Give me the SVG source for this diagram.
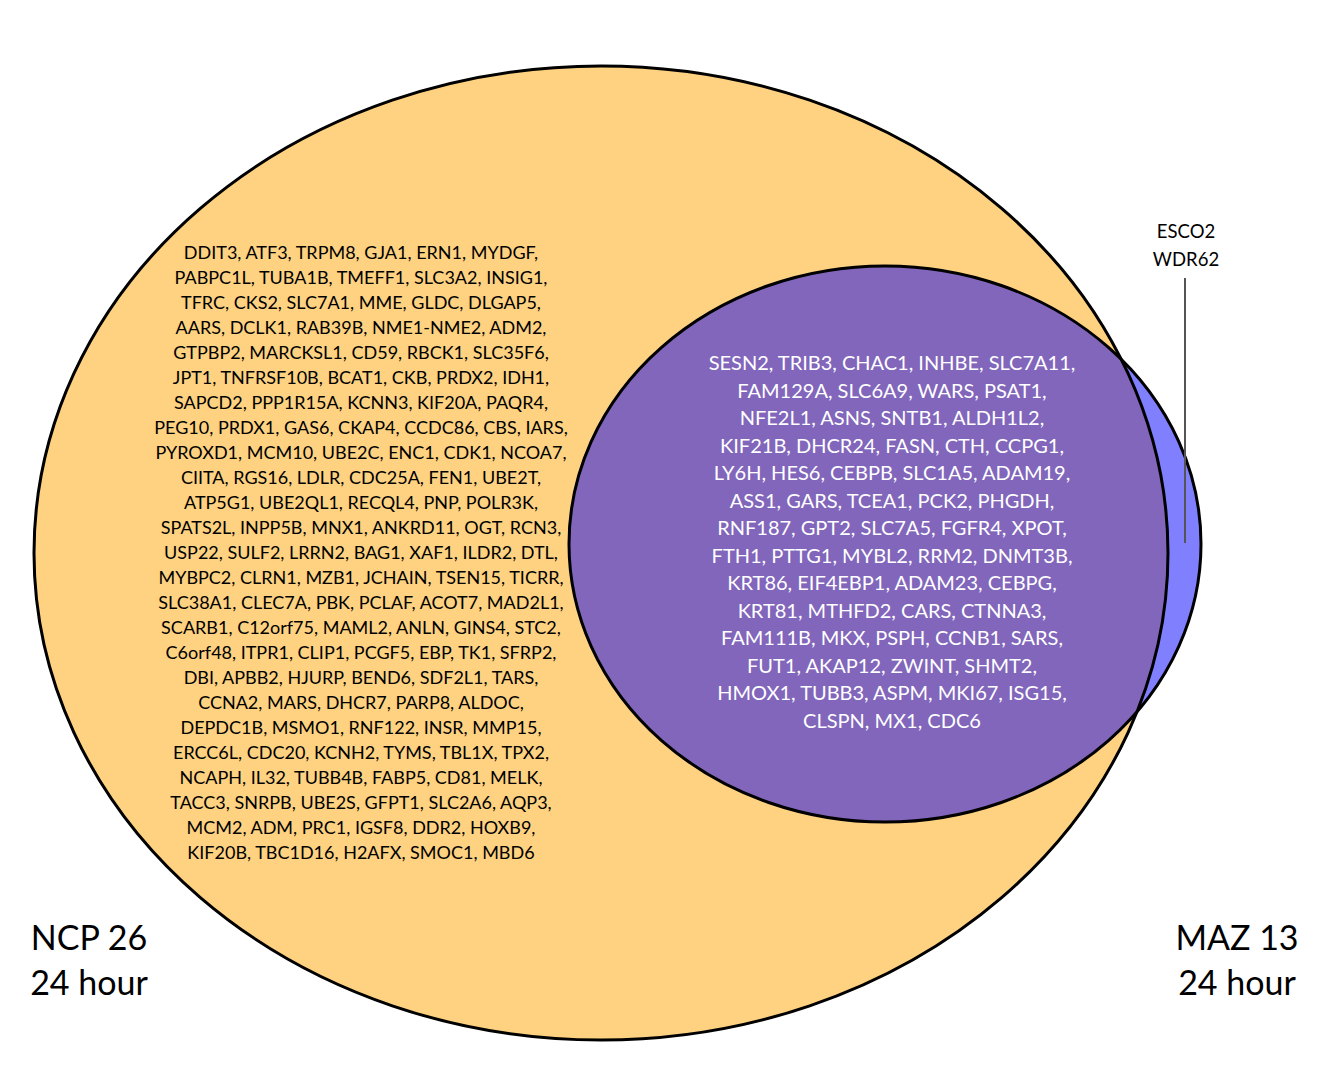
<svg xmlns="http://www.w3.org/2000/svg" width="1326" height="1086" viewBox="0 0 1326 1086">
<style>
.outline{fill:none;stroke:#000;stroke-width:3}
.gl{font-family:Lato,"Liberation Sans",sans-serif;font-size:18px;fill:#000;text-anchor:middle}
.gr{font-family:Lato,"Liberation Sans",sans-serif;font-size:20px;fill:#fff;text-anchor:middle}
.lab{font-family:Lato,"Liberation Sans",sans-serif;font-size:34px;fill:#000;text-anchor:middle}
.sm{font-family:Lato,"Liberation Sans",sans-serif;font-size:18.5px;fill:#000;text-anchor:middle}
</style>
<defs>
<clipPath id="clipY"><ellipse cx="601" cy="553" rx="567" ry="487"/></clipPath>
</defs>
<rect width="1326" height="1086" fill="#fff"/>
<g id="set-ncp26">
<ellipse cx="601" cy="553" rx="567" ry="487" fill="#FED280"/>
</g>
<g id="set-maz13">
<ellipse cx="885" cy="544" rx="316" ry="278" fill="#8080FF"/>
<ellipse cx="885" cy="544" rx="316" ry="278" fill="#8166BB" clip-path="url(#clipY)"/>
</g>
<ellipse class="outline" cx="601" cy="553" rx="567" ry="487"/>
<ellipse class="outline" cx="885" cy="544" rx="316" ry="278"/>
<g id="connectors">
<line x1="1185" y1="278" x2="1185" y2="543" stroke="#555" stroke-width="2"/>
</g>
<g id="ncp-only-genes" class="gl">
<text x="361" y="259">DDIT3, ATF3, TRPM8, GJA1, ERN1, MYDGF,</text>
<text x="361" y="284">PABPC1L, TUBA1B, TMEFF1, SLC3A2, INSIG1,</text>
<text x="361" y="309">TFRC, CKS2, SLC7A1, MME, GLDC, DLGAP5,</text>
<text x="361" y="334">AARS, DCLK1, RAB39B, NME1-NME2, ADM2,</text>
<text x="361" y="359">GTPBP2, MARCKSL1, CD59, RBCK1, SLC35F6,</text>
<text x="361" y="384">JPT1, TNFRSF10B, BCAT1, CKB, PRDX2, IDH1,</text>
<text x="361" y="409">SAPCD2, PPP1R15A, KCNN3, KIF20A, PAQR4,</text>
<text x="361" y="434">PEG10, PRDX1, GAS6, CKAP4, CCDC86, CBS, IARS,</text>
<text x="361" y="459">PYROXD1, MCM10, UBE2C, ENC1, CDK1, NCOA7,</text>
<text x="361" y="484">CIITA, RGS16, LDLR, CDC25A, FEN1, UBE2T,</text>
<text x="361" y="509">ATP5G1, UBE2QL1, RECQL4, PNP, POLR3K,</text>
<text x="361" y="534">SPATS2L, INPP5B, MNX1, ANKRD11, OGT, RCN3,</text>
<text x="361" y="559">USP22, SULF2, LRRN2, BAG1, XAF1, ILDR2, DTL,</text>
<text x="361" y="584">MYBPC2, CLRN1, MZB1, JCHAIN, TSEN15, TICRR,</text>
<text x="361" y="609">SLC38A1, CLEC7A, PBK, PCLAF, ACOT7, MAD2L1,</text>
<text x="361" y="634">SCARB1, C12orf75, MAML2, ANLN, GINS4, STC2,</text>
<text x="361" y="659">C6orf48, ITPR1, CLIP1, PCGF5, EBP, TK1, SFRP2,</text>
<text x="361" y="684">DBI, APBB2, HJURP, BEND6, SDF2L1, TARS,</text>
<text x="361" y="709">CCNA2, MARS, DHCR7, PARP8, ALDOC,</text>
<text x="361" y="734">DEPDC1B, MSMO1, RNF122, INSR, MMP15,</text>
<text x="361" y="759">ERCC6L, CDC20, KCNH2, TYMS, TBL1X, TPX2,</text>
<text x="361" y="784">NCAPH, IL32, TUBB4B, FABP5, CD81, MELK,</text>
<text x="361" y="809">TACC3, SNRPB, UBE2S, GFPT1, SLC2A6, AQP3,</text>
<text x="361" y="834">MCM2, ADM, PRC1, IGSF8, DDR2, HOXB9,</text>
<text x="361" y="859">KIF20B, TBC1D16, H2AFX, SMOC1, MBD6</text>
</g>
<g id="shared-genes" class="gr">
<text x="892" y="370">SESN2, TRIB3, CHAC1, INHBE, SLC7A11,</text>
<text x="892" y="397.5">FAM129A, SLC6A9, WARS, PSAT1,</text>
<text x="892" y="425">NFE2L1, ASNS, SNTB1, ALDH1L2,</text>
<text x="892" y="452.5">KIF21B, DHCR24, FASN, CTH, CCPG1,</text>
<text x="892" y="480">LY6H, HES6, CEBPB, SLC1A5, ADAM19,</text>
<text x="892" y="507.5">ASS1, GARS, TCEA1, PCK2, PHGDH,</text>
<text x="892" y="535">RNF187, GPT2, SLC7A5, FGFR4, XPOT,</text>
<text x="892" y="562.5">FTH1, PTTG1, MYBL2, RRM2, DNMT3B,</text>
<text x="892" y="590">KRT86, EIF4EBP1, ADAM23, CEBPG,</text>
<text x="892" y="617.5">KRT81, MTHFD2, CARS, CTNNA3,</text>
<text x="892" y="645">FAM111B, MKX, PSPH, CCNB1, SARS,</text>
<text x="892" y="672.5">FUT1, AKAP12, ZWINT, SHMT2,</text>
<text x="892" y="700">HMOX1, TUBB3, ASPM, MKI67, ISG15,</text>
<text x="892" y="727.5">CLSPN, MX1, CDC6</text>
</g>
<g id="maz-only-genes" class="sm">
<text x="1186" y="238">ESCO2</text>
<text x="1186" y="266">WDR62</text>
</g>
<g id="label-ncp26" class="lab">
<text x="89" y="950">NCP 26</text>
<text x="89" y="995">24 hour</text>
</g>
<g id="label-maz13" class="lab">
<text x="1237" y="950">MAZ 13</text>
<text x="1237" y="995">24 hour</text>
</g>
</svg>
